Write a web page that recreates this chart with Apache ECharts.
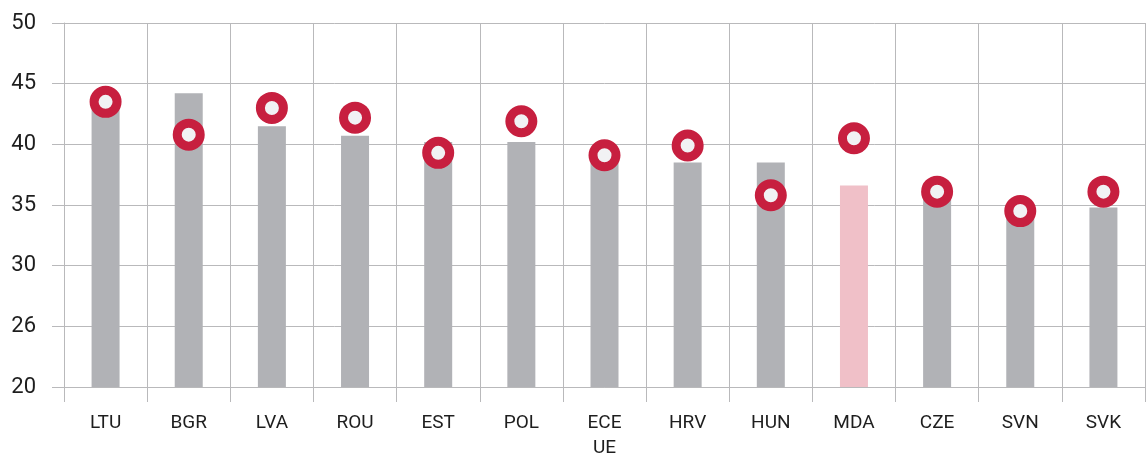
<!DOCTYPE html>
<html>
<head>
<meta charset="utf-8">
<script src="https://cdn.jsdelivr.net/npm/echarts@6/dist/echarts.min.js"></script>
<style>
  html, body { margin: 0; padding: 0; background: #fff; }
  #chart { width: 1148px; height: 453px; }
</style>
</head>
<body>
<div id="chart"></div>
<script>
// 国家代码（类目轴）
const categories = ['LTU', 'BGR', 'LVA', 'ROU', 'EST', 'POL', 'ECE\nUE', 'HRV', 'HUN', 'MDA', 'CZE', 'SVN', 'SVK']
// 柱状值（灰色柱）
const barValues = [43.3, 44.2, 41.5, 40.7, 40.2, 40.2, 39.0, 38.5, 38.5, 36.6, 35.9, 34.3, 34.8]
// 圆点值（红色圆环）
const dotValues = [43.5, 40.8, 43.0, 42.2, 39.3, 41.9, 39.1, 39.9, 35.8, 40.5, 36.1, 34.5, 36.1]
// y轴刻度标签（原图如此）
const yTickLabels = ['20', '26', '30', '35', '40', '45', '50']
// 高亮类目
const highlightCat = 'MDA'

const colors = {
  bar: '#b1b2b6',
  barHighlight: '#f0c0c8',
  ring: '#c71f3f',
  ringFill: '#f1f2f4',
  grid: '#b9b9bb',
  text: '#1e1e1e'
}

const chart = echarts.init(document.getElementById('chart'))

const option = {
  backgroundColor: '#fff',
  animation: false,
  grid: { left: 64, right: 3, top: 23, bottom: 66, containLabel: false, outerBoundsMode: 'none' },
  xAxis: {
    type: 'category',
    data: categories,
    boundaryGap: true,
    axisLine: { show: true, lineStyle: { color: colors.grid, width: 1 } },
    axisTick: { show: true, length: 15, lineStyle: { color: colors.grid, width: 1 } },
    splitLine: { show: true, lineStyle: { color: colors.grid, width: 1 } },
    axisLabel: {
      color: colors.text,
      fontFamily: 'Roboto',
      fontSize: 19,
      margin: 24,
      lineHeight: 25,
      interval: 0
    }
  },
  yAxis: {
    type: 'value',
    min: 20,
    max: 50,
    interval: 5,
    axisLine: { show: true, lineStyle: { color: colors.grid, width: 1 } },
    axisTick: { show: true, length: 12, lineStyle: { color: colors.grid, width: 1 } },
    splitLine: { show: true, lineStyle: { color: colors.grid, width: 1 } },
    axisLabel: {
      color: colors.text,
      fontFamily: 'Roboto',
      fontSize: 22,
      margin: 28,
      formatter: (v) => yTickLabels[Math.round((v - 20) / 5)]
    }
  },
  series: [
    {
      type: 'bar',
      barWidth: 28,
      data: barValues.map((v, i) => ({
        value: v,
        itemStyle: { color: categories[i] === highlightCat ? colors.barHighlight : colors.bar }
      })),
      z: 2
    },
    {
      type: 'scatter',
      data: dotValues,
      symbol: 'circle',
      symbolSize: 23,
      itemStyle: {
        color: colors.ringFill,
        borderColor: colors.ring,
        borderWidth: 9,
        opacity: 1
      },
      z: 3
    }
  ]
}

chart.setOption(option)
</script>
</body>
</html>
